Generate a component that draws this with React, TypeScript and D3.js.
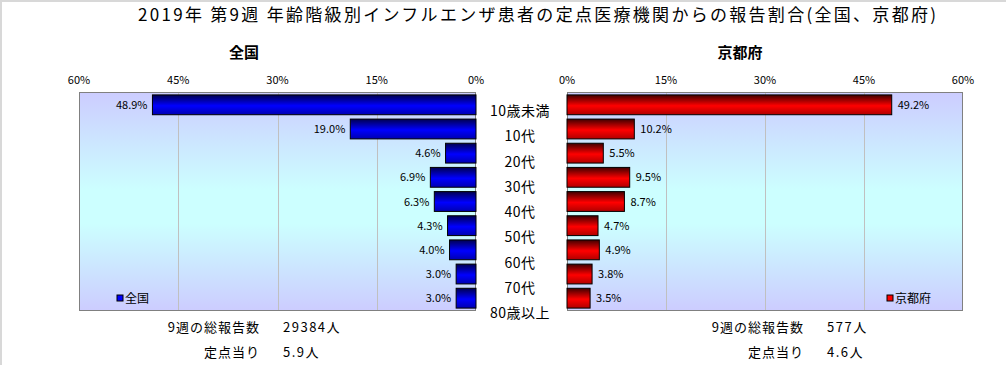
import React, { useRef, useEffect } from 'react';
import * as d3 from 'd3';

const categories = ['10歳未満', '10代', '20代', '30代', '40代', '50代', '60代', '70代', '80歳以上'];
const nationalValues = [48.9, 19.0, 4.6, 6.9, 6.3, 4.3, 4.0, 3.0, 3.0];
const kyotoValues = [49.2, 10.2, 5.5, 9.5, 8.7, 4.7, 4.9, 3.8, 3.5];
const tickValues = [0, 15, 30, 45, 60];
const nationalStats = ['29384人', '5.9人'];
const kyotoStats = ['577人', '4.6人'];
const statLabels = ['9週の総報告数', '定点当り'];

const FONT = '"Noto Sans CJK JP", "Noto Sans", sans-serif';

const App = () => {
  const ref = useRef<SVGSVGElement | null>(null);

  useEffect(() => {
    if (!ref.current) return;
    const svg = d3.select(ref.current);
    svg.selectAll('*').remove();

    const W = 1006;
    const H = 365;
    const top = 92;
    const bottom = 311;

    const defs = svg.append('defs');
    // plot background gradient (lavender -> cyan -> lavender)
    const bg = defs.append('linearGradient').attr('id', 'bg').attr('x1', 0).attr('y1', 0).attr('x2', 0).attr('y2', 1);
    bg.append('stop').attr('offset', '0%').attr('stop-color', '#ccccff');
    bg.append('stop').attr('offset', '45%').attr('stop-color', '#ccffff');
    bg.append('stop').attr('offset', '60%').attr('stop-color', '#ccffff');
    bg.append('stop').attr('offset', '100%').attr('stop-color', '#ccccff');

    const barGrad = (id: string, dark: string, mid: string, low: string) => {
      const g = defs.append('linearGradient').attr('id', id).attr('x1', 0).attr('y1', 0).attr('x2', 0).attr('y2', 1);
      g.append('stop').attr('offset', '0%').attr('stop-color', dark);
      g.append('stop').attr('offset', '55%').attr('stop-color', mid);
      g.append('stop').attr('offset', '100%').attr('stop-color', low);
    };
    barGrad('blueBar', '#000050', '#0000ff', '#0000b0');
    barGrad('redBar', '#400000', '#ff0000', '#b00000');

    // page background + top/left frame edge
    svg.append('rect').attr('width', W).attr('height', H).attr('fill', '#fff');
    svg.append('line').attr('x1', 0).attr('x2', W).attr('y1', 1).attr('y2', 1)
      .attr('stroke', '#d8d8d8').attr('stroke-width', 2);
    svg.append('line').attr('x1', 1).attr('x2', 1).attr('y1', 0).attr('y2', H)
      .attr('stroke', '#d8d8d8').attr('stroke-width', 2);

    // title
    svg.append('text')
      .attr('x', 537).attr('y', 21)
      .attr('text-anchor', 'middle')
      .attr('font-family', FONT).attr('font-size', 17)
      .attr('textLength', 798).attr('lengthAdjust', 'spacing')
      .attr('fill', '#000')
      .text('2019年 第9週 年齢階級別インフルエンザ患者の定点医療機関からの報告割合(全国、京都府)');

    const y = d3.scaleBand<string>()
      .domain(categories)
      .range([top, bottom])
      .paddingInner(0.18)
      .paddingOuter(0.12);

    const labelY = d3.scalePoint<string>().domain(categories).range([111, 313]);

    const panel = (opts: {
      name: string; values: number[]; x0: number; x1: number; reversed: boolean;
      grad: string; legendColor: string; stats: string[]; centerX: number;
      legendX: number; statX: number;
    }) => {
      const x = d3.scaleLinear().domain([0, 60])
        .range(opts.reversed ? [opts.x1, opts.x0] : [opts.x0, opts.x1]);
      const g = svg.append('g');

      g.append('rect').attr('x', opts.x0).attr('y', top).attr('width', opts.x1 - opts.x0).attr('height', bottom - top)
        .attr('fill', 'url(#bg)');

      // gridlines
      g.selectAll('line.grid').data(tickValues.filter(t => t > 0 && t < 60)).enter()
        .append('line')
        .attr('x1', d => Math.round(x(d)) + 0.5).attr('x2', d => Math.round(x(d)) + 0.5)
        .attr('y1', top).attr('y2', bottom)
        .attr('stroke', '#c0c0c0');

      g.append('rect').attr('x', opts.x0 + 0.5).attr('y', top + 0.5).attr('width', opts.x1 - opts.x0 - 1).attr('height', bottom - top - 1)
        .attr('fill', 'none').attr('stroke', '#808080');

      // ticks
      g.selectAll('text.tick').data(tickValues).enter()
        .append('text')
        .attr('x', d => x(d)).attr('y', 84)
        .attr('text-anchor', 'middle')
        .attr('font-family', FONT).attr('font-size', 11)
        .text(d => `${d}%`);

      // panel title
      g.append('text')
        .attr('x', opts.centerX).attr('y', 58)
        .attr('text-anchor', 'middle')
        .attr('font-family', FONT).attr('font-size', 15).attr('font-weight', 'bold')
        .text(opts.name);

      const data = categories.map((c, i) => ({ c, v: opts.values[i] }));

      g.selectAll('rect.bar').data(data).enter()
        .append('rect')
        .attr('x', d => Math.min(x(0), x(d.v)))
        .attr('y', d => y(d.c)!)
        .attr('width', d => Math.abs(x(d.v) - x(0)))
        .attr('height', y.bandwidth())
        .attr('fill', `url(#${opts.grad})`)
        .attr('stroke', '#000').attr('stroke-width', 1);

      g.selectAll('text.val').data(data).enter()
        .append('text')
        .attr('x', d => opts.reversed ? x(d.v) - 5 : x(d.v) + 6)
        .attr('y', d => y(d.c)! + y.bandwidth() / 2 + 4)
        .attr('text-anchor', opts.reversed ? 'end' : 'start')
        .attr('font-family', FONT).attr('font-size', 11)
        .text(d => `${d.v.toFixed(1)}%`);

      // legend
      g.append('rect').attr('x', opts.legendX).attr('y', 295).attr('width', 6).attr('height', 6)
        .attr('fill', opts.legendColor).attr('stroke', '#000');
      g.append('text').attr('x', opts.legendX + 8).attr('y', 303)
        .attr('font-family', FONT).attr('font-size', 12)
        .text(opts.name);

      // stats
      statLabels.forEach((lab, i) => {
        g.append('text').attr('x', opts.statX).attr('y', 332 + i * 25)
          .attr('text-anchor', 'end')
          .attr('font-family', FONT).attr('font-size', 13).attr('letter-spacing', 1)
          .text(lab);
        g.append('text').attr('x', opts.statX + 23).attr('y', 332 + i * 25)
          .attr('font-family', FONT).attr('font-size', 13).attr('letter-spacing', 1.5)
          .text(opts.stats[i]);
      });
    };

    panel({
      name: '全国', values: nationalValues, x0: 79, x1: 476, reversed: true,
      grad: 'blueBar', legendColor: '#0000ff', stats: nationalStats, centerX: 244,
      legendX: 117, statX: 260,
    });
    panel({
      name: '京都府', values: kyotoValues, x0: 567, x1: 963, reversed: false,
      grad: 'redBar', legendColor: '#ff0000', stats: kyotoStats, centerX: 740,
      legendX: 887, statX: 804,
    });

    // category labels
    svg.selectAll('text.cat').data(categories).enter()
      .append('text')
      .attr('x', 520)
      .attr('y', d => labelY(d)! + 5)
      .attr('text-anchor', 'middle')
      .attr('font-family', FONT).attr('font-size', 14).attr('letter-spacing', 0.5)
      .text(d => d);
  }, []);

  return (
    <div style={{ position: 'absolute', left: 0, top: 0 }}>
      <svg ref={ref} width={1006} height={365} style={{ display: 'block' }} />
    </div>
  );
};

export default App;
